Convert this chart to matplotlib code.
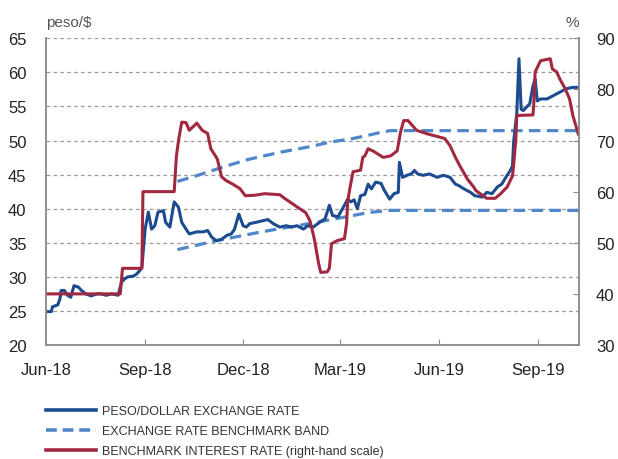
import matplotlib
matplotlib.use("Agg")
import matplotlib.pyplot as plt
import pandas as pd
from matplotlib.lines import Line2D

plt.rcParams['font.family'] = ['Liberation Sans', 'DejaVu Sans']

# peso/dollar exchange rate (left scale)
fx_dates = [
    '2018-06-01', '2018-06-06', '2018-06-07', '2018-06-12', '2018-06-14', '2018-06-15',
    '2018-06-18', '2018-06-21', '2018-06-24', '2018-06-27', '2018-07-01', '2018-07-04',
    '2018-07-08', '2018-07-13', '2018-07-18', '2018-07-22', '2018-07-27', '2018-08-01',
    '2018-08-07', '2018-08-10', '2018-08-13', '2018-08-16', '2018-08-21', '2018-08-24',
    '2018-08-27', '2018-08-29', '2018-09-01', '2018-09-04', '2018-09-07', '2018-09-10',
    '2018-09-13', '2018-09-18', '2018-09-20', '2018-09-24', '2018-09-28', '2018-10-02',
    '2018-10-05', '2018-10-09', '2018-10-12', '2018-10-19', '2018-10-25', '2018-10-29',
    '2018-11-02', '2018-11-06', '2018-11-11', '2018-11-16', '2018-11-20', '2018-11-23',
    '2018-11-27', '2018-12-01', '2018-12-04', '2018-12-07', '2018-12-13', '2018-12-21',
    '2018-12-24', '2018-12-29', '2019-01-04', '2019-01-10', '2019-01-15', '2019-01-20',
    '2019-01-26', '2019-01-30', '2019-02-04', '2019-02-10', '2019-02-15', '2019-02-19',
    '2019-02-22', '2019-02-27', '2019-03-05', '2019-03-08', '2019-03-11', '2019-03-14',
    '2019-03-17', '2019-03-20', '2019-03-24', '2019-03-27', '2019-03-30', '2019-04-03',
    '2019-04-08', '2019-04-11', '2019-04-16', '2019-04-20', '2019-04-24', '2019-04-25',
    '2019-04-28', '2019-05-02', '2019-05-06', '2019-05-09', '2019-05-12', '2019-05-17',
    '2019-05-23', '2019-05-30', '2019-06-05', '2019-06-11', '2019-06-16', '2019-06-19',
    '2019-06-24', '2019-06-30', '2019-07-04', '2019-07-11', '2019-07-15', '2019-07-20',
    '2019-07-25', '2019-07-29', '2019-08-03', '2019-08-06', '2019-08-08', '2019-08-09',
    '2019-08-12', '2019-08-14', '2019-08-16', '2019-08-18', '2019-08-21', '2019-08-24',
    '2019-08-27', '2019-08-29', '2019-08-31', '2019-09-03', '2019-09-09', '2019-09-15',
    '2019-09-21', '2019-09-27', '2019-10-03', '2019-10-08',
]
fx_values = [
    24.9, 24.9, 25.6, 25.9, 26.8, 28.0,
    28.0, 27.3, 27.0, 28.7, 28.5, 28.0,
    27.5, 27.2, 27.5, 27.5, 27.3, 27.5,
    27.3, 29.2, 29.7, 30.0, 30.1, 30.4,
    30.9, 31.4, 37.0, 39.5, 37.0, 37.5,
    39.5, 39.7, 38.0, 37.3, 41.0, 40.2,
    38.0, 37.0, 36.3, 36.6, 36.6, 36.8,
    35.8, 35.3, 35.5, 36.1, 36.3, 37.0,
    39.2, 37.5, 37.3, 37.8, 38.0, 38.3,
    38.4, 37.8, 37.3, 37.5, 37.3, 37.5,
    37.0, 37.5, 37.3, 38.0, 38.5, 40.5,
    39.0, 38.8, 40.5, 41.4, 41.0, 41.3,
    40.0, 41.9, 42.1, 43.6, 42.9, 43.9,
    43.7, 42.7, 41.4, 42.2, 42.4, 46.8,
    44.6, 44.9, 45.1, 45.6, 45.1, 44.9,
    45.1, 44.6, 44.9, 44.6, 43.6, 43.4,
    42.9, 42.4, 41.9, 41.7, 42.4, 42.2,
    43.2, 43.6, 44.9, 45.6, 46.3, 49.7,
    54.1, 62.0, 54.6, 54.4, 54.9, 55.4,
    58.0, 59.0, 55.8, 56.1, 56.1, 56.6,
    57.1, 57.6, 57.8, 57.8,
]

# exchange rate benchmark band (left scale)
band_up_dates = ['2018-10-01', '2018-10-20', '2018-11-12', '2018-12-05', '2019-01-05',
                 '2019-02-01', '2019-02-19', '2019-03-13', '2019-03-25', '2019-04-05',
                 '2019-04-16', '2019-10-09']
band_up_values = [44.0, 44.9, 46.1, 47.2, 48.3, 49.1, 49.75, 50.3, 50.7, 51.1, 51.45, 51.45]
band_lo_dates = ['2018-10-01', '2018-11-06', '2018-12-18', '2019-01-31', '2019-03-13',
                 '2019-03-28', '2019-04-16', '2019-10-09']
band_lo_values = [34.0, 35.3, 36.6, 37.8, 39.0, 39.45, 39.75, 39.75]

# benchmark interest rate (right scale, %)
ir_dates = [
    '2018-06-01', '2018-08-09', '2018-08-11', '2018-08-29', '2018-08-30', '2018-09-28',
    '2018-09-30', '2018-10-02', '2018-10-05', '2018-10-09', '2018-10-12', '2018-10-19',
    '2018-10-24', '2018-10-29', '2018-11-01', '2018-11-07', '2018-11-11', '2018-11-15',
    '2018-11-21', '2018-11-28', '2018-12-03', '2018-12-12', '2018-12-21', '2019-01-04',
    '2019-01-09', '2019-01-16', '2019-01-23', '2019-01-28', '2019-02-01', '2019-02-05',
    '2019-02-09', '2019-02-11', '2019-02-17', '2019-02-19', '2019-02-21', '2019-02-26',
    '2019-03-05', '2019-03-07', '2019-03-08', '2019-03-10', '2019-03-13', '2019-03-20',
    '2019-03-22', '2019-03-24', '2019-03-27', '2019-04-01', '2019-04-10', '2019-04-17',
    '2019-04-23', '2019-04-26', '2019-04-29', '2019-05-03', '2019-05-11', '2019-05-21',
    '2019-05-30', '2019-06-06', '2019-06-11', '2019-06-16', '2019-06-20', '2019-06-27',
    '2019-07-03', '2019-07-05', '2019-07-09', '2019-07-15', '2019-07-23', '2019-07-28',
    '2019-08-03', '2019-08-08', '2019-08-09', '2019-08-11', '2019-08-12', '2019-08-27',
    '2019-08-28', '2019-08-29', '2019-09-03', '2019-09-12', '2019-09-14', '2019-09-18',
    '2019-09-21', '2019-09-26', '2019-09-30', '2019-10-03', '2019-10-08',
]
ir_values = [
    40.0, 40.0, 45.0, 45.0, 60.0, 60.0,
    66.8, 70.0, 73.6, 73.5, 72.0, 73.4,
    72.0, 71.4, 68.4, 66.4, 62.9, 62.2,
    61.5, 60.6, 59.2, 59.3, 59.6, 59.4,
    58.6, 57.6, 56.6, 55.9, 54.3, 50.8,
    46.0, 44.2, 44.3, 45.0, 49.8, 50.4,
    50.8, 53.7, 58.0, 60.6, 63.9, 64.2,
    66.7, 67.0, 68.4, 67.9, 66.7, 67.0,
    68.0, 71.6, 73.9, 73.9, 72.0, 71.3,
    70.8, 70.4, 69.0, 66.7, 65.1, 62.5,
    60.9, 60.2, 59.6, 58.7, 58.7, 59.6,
    60.9, 63.1, 65.1, 70.0, 74.9, 75.0,
    78.1, 83.4, 85.6, 86.0, 84.0, 83.4,
    82.0, 80.1, 78.1, 74.9, 71.3,
]

tick_dates = ['2018-06-01', '2018-09-01', '2018-12-01', '2019-03-01', '2019-06-01', '2019-09-01']
tick_labels = ['Jun-18', 'Sep-18', 'Dec-18', 'Mar-19', 'Jun-19', 'Sep-19']

legend_labels = ['PESO/DOLLAR EXCHANGE RATE', 'EXCHANGE RATE BENCHMARK BAND',
                 'BENCHMARK INTEREST RATE (right-hand scale)']

c_fx = '#1d4b8f'
c_band = '#4f87c9'
c_ir = '#a2283f'
c_axis = '#8c8c8c'
c_text = '#222222'

fig = plt.figure(figsize=(6.18, 4.60), dpi=100)
ax = fig.add_axes([0.0744, 0.2478, 0.863, 0.6668])
ax2 = ax.twinx()

ax.plot(pd.to_datetime(band_up_dates), band_up_values, color=c_band, lw=2.3,
        dashes=(3.6, 2.0), solid_capstyle='butt')
ax.plot(pd.to_datetime(band_lo_dates), band_lo_values, color=c_band, lw=2.3,
        dashes=(3.6, 2.0), solid_capstyle='butt')
ax.plot(pd.to_datetime(fx_dates), fx_values, color=c_fx, lw=2.2)
ax2.plot(pd.to_datetime(ir_dates), ir_values, color=c_ir, lw=2.2)

ax.set_xlim(pd.Timestamp('2018-06-01'), pd.Timestamp('2019-10-09'))
ax.set_ylim(20, 65)
ax2.set_ylim(30, 90)
ax.set_yticks(range(20, 66, 5))
ax2.set_yticks(range(30, 91, 10))
ax.set_xticks(pd.to_datetime(tick_dates))
ax.set_xticklabels(tick_labels)

ax.grid(axis='y', color='#9a9a9a', linestyle=(0, (3, 2.5)), lw=0.9)
ax.set_axisbelow(True)

for a in (ax, ax2):
    a.spines['top'].set_visible(False)
    for s in ('left', 'right', 'bottom'):
        a.spines[s].set_color(c_axis)
        a.spines[s].set_linewidth(1.1)

ax.tick_params(axis='y', length=0, labelsize=12, labelcolor=c_text, pad=14)
ax.tick_params(axis='x', direction='in', length=4, color=c_axis, labelsize=12,
               labelcolor=c_text, pad=12)
ax2.tick_params(axis='y', direction='in', length=4, color=c_axis, labelsize=12,
                labelcolor=c_text, pad=12)

ax.text(0.0, 1.03, 'peso/$', transform=ax.transAxes, fontsize=11, color='#555555',
        ha='left', va='bottom')
ax2.text(1.0, 1.03, '%', transform=ax2.transAxes, fontsize=11, color='#555555',
         ha='right', va='bottom')

handles = [Line2D([], [], color=c_fx, lw=2.6),
           Line2D([], [], color=c_band, lw=2.6, dashes=(3.0, 1.6)),
           Line2D([], [], color=c_ir, lw=2.6)]
fig.legend(handles, legend_labels, loc='upper left', bbox_to_anchor=(0.064, 0.13),
           frameon=False, handlelength=4.0, handletextpad=0.5,
           labelspacing=0.62, borderpad=0, labelcolor='#333333',
           prop={'family': ['Liberation Sans Narrow', 'Liberation Sans', 'DejaVu Sans'], 'size': 9})

fig.savefig('out.png', dpi=100)
